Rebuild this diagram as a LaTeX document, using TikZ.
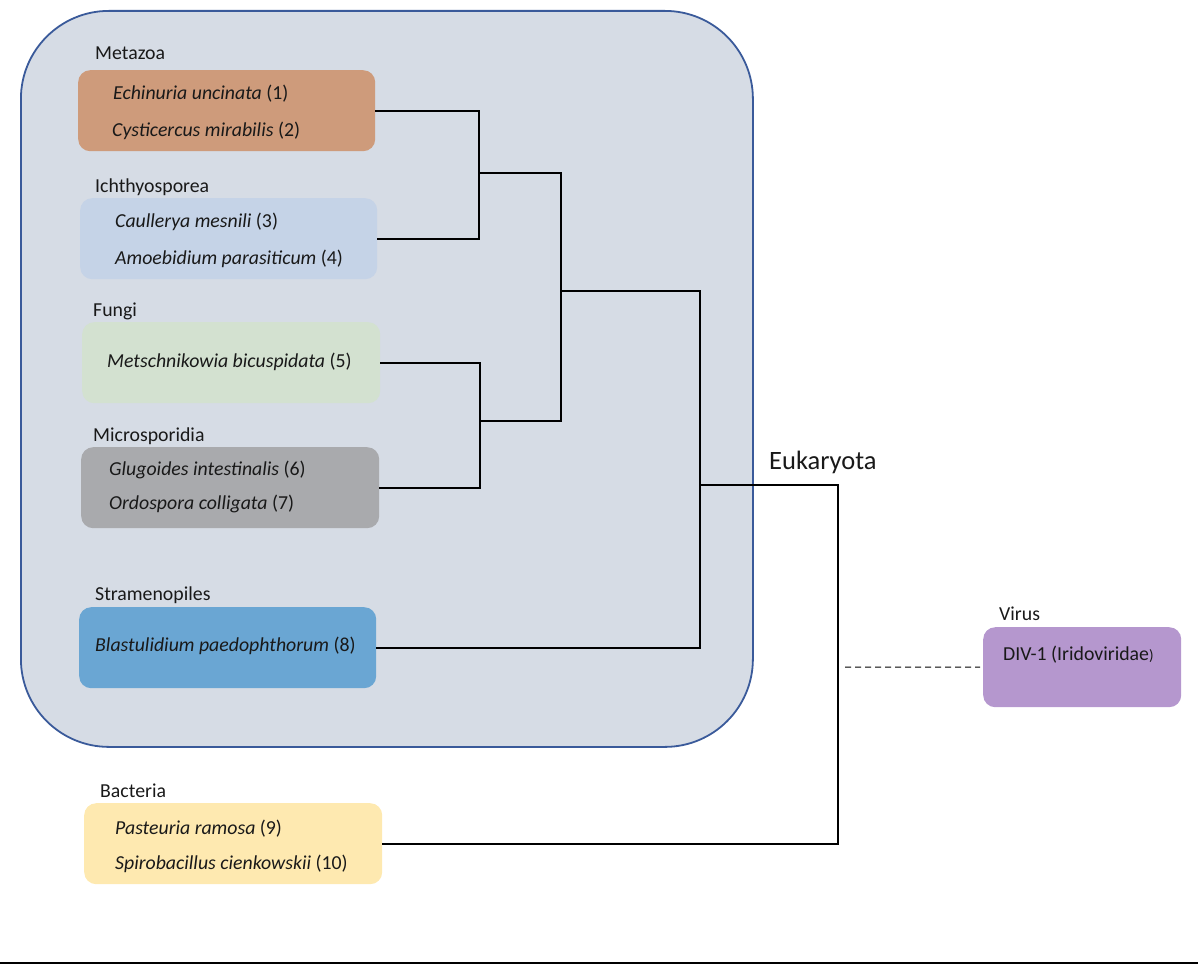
\documentclass[tikz,border=0pt]{standalone}
\usepackage{fontspec}
\setmainfont{Carlito}
\definecolor{bigfill}{RGB}{214,220,229}
\definecolor{bigline}{RGB}{58,90,154}
\definecolor{cmeta}{RGB}{206,155,123}
\definecolor{cich}{RGB}{197,211,231}
\definecolor{cfungi}{RGB}{211,225,208}
\definecolor{cmicro}{RGB}{169,170,173}
\definecolor{cstram}{RGB}{106,166,211}
\definecolor{cbact}{RGB}{254,233,176}
\definecolor{cvirus}{RGB}{181,151,206}
\definecolor{txt}{RGB}{25,25,25}
\begin{document}
\begin{tikzpicture}[x=1pt,y=-1pt,
  box/.style={rectangle, rounded corners=12pt, minimum height=81pt, inner sep=0pt, anchor=north west, draw=none},
  lbl/.style={anchor=west, inner sep=0pt, text=txt, font=\fontsize{19.8}{22}\selectfont},
  link/.style={line width=2.3pt, line join=miter, black}]
\useasboundingbox (0,0) rectangle (1198,968);
% big eukaryota frame
\node[rectangle, rounded corners=88pt, minimum width=732pt, minimum height=736pt, anchor=north west, fill=bigfill, draw=bigline, line width=1.8pt, inner sep=0pt] (euk) at (20,10) {};
% boxes
\node[box, fill=cmeta, minimum width=297pt] (meta) at (78,70) {};
\node[box, fill=cich, minimum width=297pt] (ich) at (80,198) {};
\node[box, fill=cfungi, minimum width=298pt] (fungi) at (82,322) {};
\node[box, fill=cmicro, minimum width=298pt] (micro) at (81,447) {};
\node[box, fill=cstram, minimum width=297pt] (stram) at (79,607) {};
\node[box, fill=cbact, minimum width=298pt] (bact) at (84,803) {};
\node[box, fill=cvirus, minimum width=198pt, minimum height=80pt] (virus) at (983,627) {};
% group labels
\node[lbl] (lmeta) at (95,53) {Metazoa};
\node[lbl] (lich) at (95,187) {Ichthyosporea};
\node[lbl] (lfungi) at (93,311) {Fungi};
\node[lbl] (lmicro) at (93,436) {Microsporidia};
\node[lbl] (lstram) at (95,595) {Stramenopiles};
\node[lbl] (lbact) at (100,791) {Bacteria};
\node[lbl] (lvirus) at (999,614) {Virus};
\node[lbl, font=\fontsize{26.5}{30}\selectfont] (leuk) at (769,462) {Eukaryota};
% species
\node[lbl] (s1) at (113,94) {\textit{Echinuria uncinata} (1)};
\node[lbl] (s2) at (112,131) {\textit{Cysticercus mirabilis} (2)};
\node[lbl] (s3) at (115,222) {\textit{Caullerya mesnili} (3)};
\node[lbl] (s4) at (115,259) {\textit{Amoebidium parasiticum} (4)};
\node[lbl] (s5) at (107,362) {\textit{Metschnikowia bicuspidata} (5)};
\node[lbl] (s6) at (109,470) {\textit{Glugoides intestinalis} (6)};
\node[lbl] (s7) at (109,504) {\textit{Ordospora colligata} (7)};
\node[lbl] (s8) at (95,646) {\textit{Blastulidium paedophthorum} (8)};
\node[lbl] (s9) at (115,829) {\textit{Pasteuria ramosa} (9)};
\node[lbl] (s10) at (115,864) {\textit{Spirobacillus cienkowskii} (10)};
\node[lbl] (s11) at (1003,655) {DIV-1 (Iridoviridae{\fontsize{15}{16}\selectfont)}};
% tree junctions
\coordinate (j1) at (479,173);
\coordinate (j2) at (561,291);
\coordinate (j3) at (480,421);
\coordinate (j4) at (700,485);
\coordinate (root) at (838,485);
\coordinate (dstart) at (845,667);
\draw[link] (meta.east) -| (j1) |- (ich.east);
\draw[link] (fungi.east) -| (j3) |- (micro.east);
\draw[link] (j1) -| (j2) |- (j3);
\draw[link] (j2) -| (j4) |- (stram.east);
\draw[link] (j4) -- (root) |- (bact.east);
\draw[line width=1pt, dash pattern=on 6pt off 4pt] (dstart) -- ([xshift=-3pt]virus.west);
% bottom rule
\draw[line width=2.5pt] (0,963) -- (1198,963);
\end{tikzpicture}
\end{document}
